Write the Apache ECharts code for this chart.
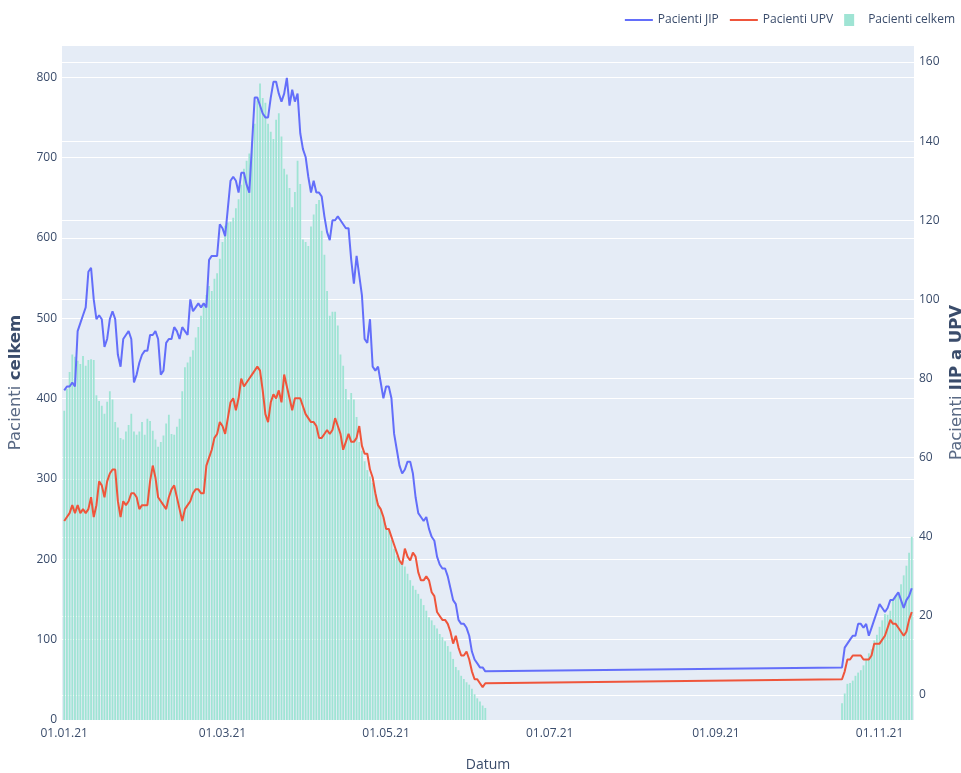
<!DOCTYPE html>
<html>
<head>
<meta charset="UTF-8">
<title>Pacienti</title>
<script src="https://cdn.jsdelivr.net/npm/echarts@6/dist/echarts.min.js"></script>
<style>
html, body { margin: 0; padding: 0; background: #fff; }
#graf { width: 961px; height: 773px; }
</style>
</head>
<body>
<div id="graf"></div>
<script>
// prvni vlna: denni data od 01.01.21, druha cast od 18.10.21
var jaroStart = '2021-01-01';
var podzimStart = '2021-10-18';

var jipJaro = [77,78,78,79,78,92,94,96,98,107, 108,100,95,96,95,88,90,95,97,95,
  86,83,90,91,92,90,79,81,84,86, 87,87,91,91,92,90,81,82,89,90,
  90,93,92,90,93,92,91,100,97,98, 99,98,99,98,110,111,111,111,119,118,
  116,123,130,131,130,127,132,132,129,127, 139,151,151,149,147,146,146,151,155,155,
  152,150,152,156,149,153,150,152,142,138, 136,131,127,130,127,127,126,121,117,115,
  120,120,121,120,119,118,118,110,104,111, 106,101,90,89,95,83,82,83,79,75,
  78,78,75,66,62,58,56,57,59,59, 56,50,46,45,44,45,42,40,39,35,
  33,32,32,30,27,24,23,19,18,18, 17,15,11,9,8,7,7,6];
var upvJaro = [44,45,46,48,46,48,46,47,46,47, 50,45,48,54,53,50,54,56,57,57,
  49,45,49,48,49,51,51,50,47,48, 48,48,54,58,55,50,49,48,47,50,
  52,53,50,47,44,47,48,49,51,52, 52,51,51,58,60,62,65,66,69,68,
  66,70,74,75,72,75,80,78,79,80, 81,82,83,82,77,71,69,74,76,75,
  77,74,81,78,75,72,75,75,75,73, 71,70,69,69,68,65,65,66,67,66,
  67,70,68,66,62,64,66,64,64,65, 68,63,61,61,57,55,51,48,47,45,
  42,42,40,38,36,34,33,37,35,34, 36,35,31,29,29,30,29,26,25,21,
  20,19,19,18,16,13,15,12,10,10, 11,9,6,4,4,3,2,3];
var celkemJaro = [385,412,433,455,452,447,443,453,441,448, 449,448,404,397,391,381,396,409,399,371,
  364,351,349,359,367,381,359,355,359,371, 355,375,372,360,349,340,346,354,369,380,
  356,355,365,375,409,439,445,452,460,476, 489,503,518,529,540,534,549,556,574,595,
  615,619,620,625,637,648,666,686,696,705, 720,742,771,792,774,768,742,732,723,747,
  755,726,686,679,662,638,657,696,667,598, 595,590,614,629,642,647,609,579,534,503,
  508,508,491,455,441,412,399,407,399,377, 346,335,322,311,303,295,282,270,262,252,
  242,238,224,213,204,198,195,191,182,174, 167,162,157,151,143,136,128,124,118,114,
  107,103,98,92,85,76,66,62,55,51, 47,44,39,32,27,23,18,15];

var jipPodzim = [7,12,13,14,15,15,18,18,17,18,15,17,19,21,23,22,21,22,24,24,25,26,24,22,24,25,27];
var upvPodzim = [4,6,9,9,10,10,10,10,9,9,9,10,13,13,13,14,15,17,19,18,18,17,16,15,16,19,21];
var celkemPodzim = [21,33,45,46,49,55,59,62,68,75,83,88,99,106,116,124,132,131,136,151,155,158,169,180,192,208,228];

var DEN = 86400000;
function dny(start, hodnoty) {
	var t0 = Date.parse(start + 'T00:00:00Z');
	return hodnoty.map(function (v, i) { return [t0 + i * DEN, v]; });
}
function dva(n) { return (n < 10 ? '0' : '') + n; }

var barva = '#3a4c6b';
var pismo = '"Open Sans", "DejaVu Sans", sans-serif';
var pismoOsy = '"DejaVu Sans", sans-serif';
var ikonaCara = 'path://M0,0L28,0L28,2L0,2Z';

var graf = echarts.init(document.getElementById('graf'));
var option = {
	useUTC: true,
	animation: false,
	textStyle: { fontFamily: pismo, color: barva },
	legend: {
		top: 9,
		right: 1,
		itemWidth: 28,
		itemHeight: 12,
		itemGap: 11,
		textStyle: { fontSize: 12, color: barva, fontFamily: pismo },
		data: [
			{ name: 'Pacienti JIP', icon: ikonaCara },
			{ name: 'Pacienti UPV', icon: ikonaCara },
			{ name: 'Pacienti celkem', icon: 'path://M0,0L10,0L10,12L0,12Z' }
		]
	},
	grid: {
		left: 62, right: 47, top: 45, bottom: 53,
		outerBoundsMode: 'none',
		containLabel: false,
		show: true, backgroundColor: '#E5ECF6', borderWidth: 0
	},
	xAxis: {
		type: 'time',
		min: Date.UTC(2020, 11, 31, 12),
		max: Date.UTC(2021, 10, 13, 12),
		minInterval: 61 * DEN,
		maxInterval: 61 * DEN,
		name: 'Datum',
		nameLocation: 'middle',
		nameGap: 38,
		nameMoveOverlap: false,
		nameTextStyle: { fontSize: 14, color: barva, fontFamily: pismo },
		axisLine: { show: false },
		axisTick: { show: false },
		splitLine: { show: false },
		axisLabel: {
			fontSize: 12,
			color: barva,
			margin: 8,
			hideOverlap: false,
			formatter: function (v) {
				var d = new Date(v);
				return dva(d.getUTCDate()) + '.' + dva(d.getUTCMonth() + 1) + '.' + String(d.getUTCFullYear()).slice(2);
			}
		}
	},
	yAxis: [
		{
			type: 'value',
			min: 0, max: 840, interval: 100,
			name: 'Pacienti {b|celkem}',
			nameLocation: 'middle',
			nameRotate: 90,
			nameGap: 38,
			nameMoveOverlap: false,
			nameTextStyle: { fontSize: 16.5, color: '#5a6a85', fontFamily: pismoOsy,
				rich: { b: { fontWeight: 'bold', fontSize: 16.5, color: barva, fontFamily: pismoOsy } } },
			axisLine: { show: false },
			axisTick: { show: false },
			axisLabel: { fontSize: 12, color: barva, margin: 5, showMaxLabel: false },
			splitLine: { lineStyle: { color: '#ffffff', width: 1 } }
		},
		{
			type: 'value',
			position: 'right',
			min: -6.3, max: 164.3, splitNumber: 8,
			name: 'Pacienti {b|JIP a UPV}',
			nameLocation: 'middle',
			nameRotate: 90,
			nameGap: 34,
			nameMoveOverlap: false,
			nameTextStyle: { fontSize: 16.5, color: '#5a6a85', fontFamily: pismoOsy,
				rich: { b: { fontWeight: 'bold', fontSize: 16.5, color: barva, fontFamily: pismoOsy } } },
			axisLine: { show: false },
			axisTick: { show: false },
			axisLabel: { fontSize: 12, color: barva, margin: 5, showMinLabel: false, showMaxLabel: false },
			splitLine: { lineStyle: { color: '#ffffff', width: 1 } }
		}
	],
	series: [
		{
			name: 'Pacienti celkem',
			type: 'bar',
			yAxisIndex: 0,
			barWidth: 1.8,
			itemStyle: { color: '#9fe4d4' },
			data: dny(jaroStart, celkemJaro).concat(dny(podzimStart, celkemPodzim))
		},
		{
			name: 'Pacienti JIP',
			type: 'line',
			yAxisIndex: 1,
			symbol: 'none',
			lineStyle: { color: '#636EFA', width: 2 },
			itemStyle: { color: '#636EFA' },
			data: dny(jaroStart, jipJaro).concat(dny(podzimStart, jipPodzim))
		},
		{
			name: 'Pacienti UPV',
			type: 'line',
			yAxisIndex: 1,
			symbol: 'none',
			lineStyle: { color: '#EF553B', width: 2 },
			itemStyle: { color: '#EF553B' },
			data: dny(jaroStart, upvJaro).concat(dny(podzimStart, upvPodzim))
		}
	]
};
graf.setOption(option);
</script>
</body>
</html>
